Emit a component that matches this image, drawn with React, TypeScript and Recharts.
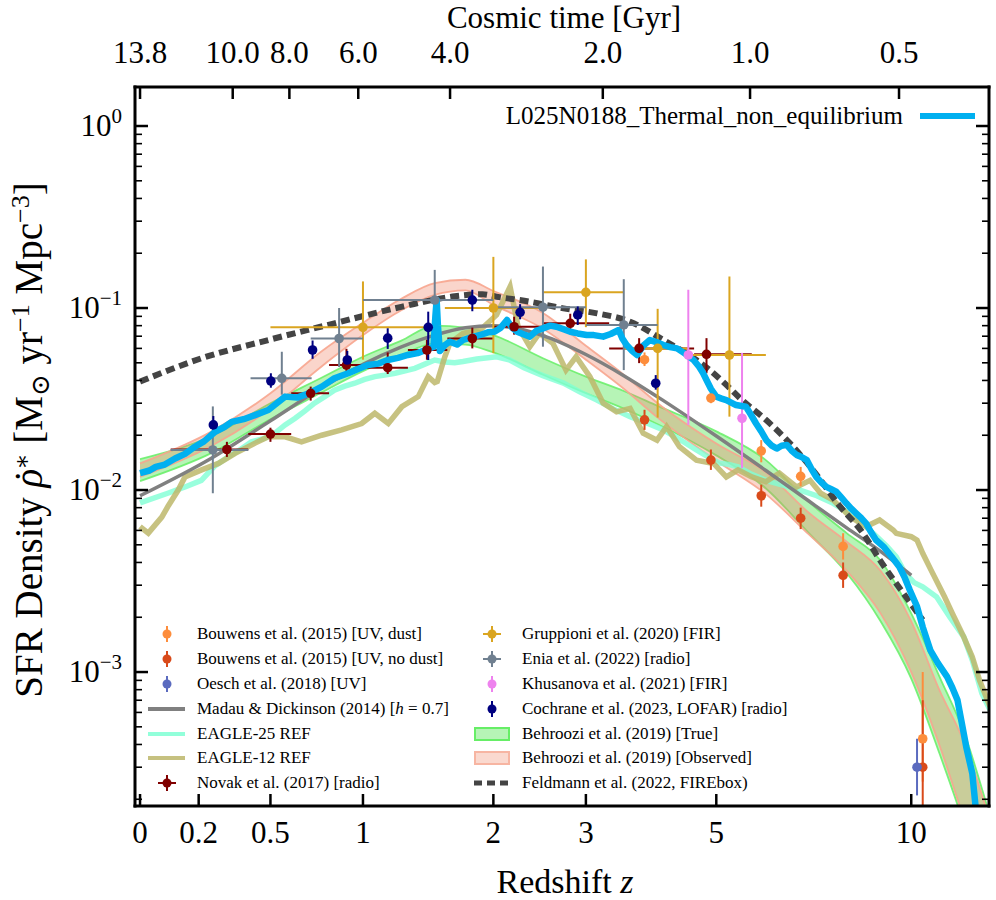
import React from 'react';
import { ComposedChart, Line, Area, Scatter, XAxis, YAxis, ErrorBar, Legend } from 'recharts';

const W = 996;
const H = 900;
// matplotlib axes box, in page pixels
const BOX = { left: 135, right: 989, top: 87, bottom: 806 };
const X_DOMAIN: [number, number] = [-0.0068, 1.1464]; // log10(1+z)
const Y_DOMAIN: [number, number] = [-3.736, 0.2143]; // log10(rho)
const SERIF = '"Liberation Serif", "Times New Roman", "DejaVu Serif", serif';

// axis ticks
const zTicks = [0, 0.2, 0.5, 1, 2, 3, 5, 10];
const zTickLabels = ['0', '0.2', '0.5', '1', '2', '3', '5', '10'];
const ageTickLabels = ['13.8', '10.0', '8.0', '6.0', '4.0', '2.0', '1.0', '0.5'];
const ageTickZ = [0, 0.334, 0.591, 0.971, 1.622, 3.216, 5.664, 9.59];
const yMajor = [-3, -2, -1, 0];

// [z, rho]
const thermalNonEq: [number, number][] = [
  [0, 0.0124], [0.03, 0.0128], [0.05, 0.0134], [0.08, 0.0138], [0.115, 0.0149], [0.15, 0.0158],
  [0.186, 0.0173], [0.22, 0.0185], [0.263, 0.0209], [0.3, 0.0222], [0.33, 0.0237], [0.38, 0.0245],
  [0.43, 0.0258], [0.49, 0.0275], [0.53, 0.03], [0.57, 0.0326], [0.63, 0.0322], [0.69, 0.034],
  [0.76, 0.037], [0.83, 0.0411], [0.91, 0.0438], [0.97, 0.0462], [1.03, 0.0486], [1.1, 0.0495],
  [1.16, 0.0518], [1.23, 0.0532], [1.3, 0.0552], [1.37, 0.0565], [1.43, 0.0588], [1.49, 0.0613],
  [1.505, 0.09], [1.515, 0.1106], [1.525, 0.08], [1.54, 0.058], [1.58, 0.0625], [1.62, 0.0653],
  [1.68, 0.063], [1.73, 0.0667], [1.8, 0.069], [1.88, 0.0711], [1.95, 0.0735], [2.01, 0.0741],
  [2.07, 0.078], [2.13, 0.0859], [2.18, 0.078], [2.23, 0.0741], [2.3, 0.0715], [2.36, 0.0696],
  [2.43, 0.075], [2.5, 0.0773], [2.58, 0.08], [2.65, 0.0789], [2.73, 0.0765], [2.81, 0.0741],
  [2.9, 0.0725], [3.01, 0.0711], [3.1, 0.071], [3.22, 0.0696], [3.32, 0.072], [3.43, 0.0757],
  [3.48, 0.068], [3.54, 0.0626], [3.62, 0.058], [3.69, 0.0552], [3.78, 0.062], [3.88, 0.0667],
  [3.98, 0.065], [4.09, 0.0626], [4.2, 0.061], [4.31, 0.06], [4.45, 0.056], [4.59, 0.0518],
  [4.68, 0.048], [4.76, 0.0438], [4.82, 0.0402], [4.9, 0.036], [5.0, 0.0326], [5.1, 0.0318],
  [5.19, 0.0312], [5.38, 0.0293], [5.58, 0.0287], [5.68, 0.026], [5.79, 0.0232], [5.9, 0.021],
  [6.01, 0.0188], [6.12, 0.0176], [6.24, 0.0169], [6.35, 0.0175], [6.47, 0.0177], [6.58, 0.0165],
  [6.7, 0.0156], [6.82, 0.0152], [6.95, 0.0146], [7.07, 0.013], [7.19, 0.0118], [7.32, 0.011],
  [7.45, 0.0104], [7.58, 0.0101], [7.71, 0.0098], [7.85, 0.0091], [7.99, 0.00845], [8.13, 0.0079],
  [8.27, 0.00745], [8.42, 0.007], [8.56, 0.00656], [8.7, 0.0059], [8.86, 0.00531], [9.09, 0.00489],
  [9.35, 0.0043], [9.6, 0.00379], [9.78, 0.0033], [9.95, 0.00282], [10.2, 0.00229], [10.4, 0.00177],
  [10.67, 0.00132], [10.95, 0.00112], [11.3, 0.00094], [11.5, 0.00082], [11.7, 0.000702],
  [11.85, 0.000545], [12.05, 0.000389], [12.3, 0.000277], [12.45, 0.000175],
];

const eagle25: [number, number][] = [
  [0, 0.0085], [0.09, 0.0096], [0.15, 0.0104], [0.21, 0.0113], [0.26, 0.0135], [0.315, 0.0152],
  [0.36, 0.0165], [0.414, 0.0184], [0.47, 0.0192], [0.52, 0.0205], [0.57, 0.0228], [0.62, 0.0248],
  [0.67, 0.0272], [0.72, 0.03], [0.78, 0.0328], [0.83, 0.0354], [0.89, 0.0372], [0.95, 0.0386],
  [1.01, 0.0405], [1.075, 0.042], [1.14, 0.0428], [1.21, 0.0438], [1.28, 0.0452], [1.35, 0.0466],
  [1.42, 0.049], [1.5, 0.0518], [1.58, 0.0505], [1.66, 0.05], [1.73, 0.0508], [1.85, 0.0525],
  [2.03, 0.054], [2.15, 0.052], [2.3, 0.047], [2.5, 0.0425], [2.73, 0.0387], [2.93, 0.0345],
  [3.14, 0.0312], [3.35, 0.028], [3.59, 0.0253], [3.85, 0.0232], [4.09, 0.0214], [4.35, 0.019],
  [4.64, 0.0166], [4.85, 0.0152], [5.05, 0.0141], [5.25, 0.0138], [5.42, 0.0134], [5.7, 0.0122],
  [6.0, 0.0113], [6.4, 0.0106], [6.78, 0.01], [7.2, 0.0093], [7.63, 0.00845], [8.1, 0.0074],
  [8.56, 0.0063], [8.9, 0.0055], [9.2, 0.0049], [9.5, 0.0043], [9.8, 0.00348], [10.1, 0.0031],
  [10.4, 0.00294], [10.9, 0.00259], [11.4, 0.00201], [11.95, 0.00156], [12.3, 0.00116],
  [12.7, 0.000764], [13.05, 0.00062],
];

const eagle12: [number, number][] = [
  [0, 0.0063], [0.026, 0.0058], [0.07, 0.0071], [0.092, 0.0082], [0.126, 0.01], [0.15, 0.0118],
  [0.211, 0.0129], [0.276, 0.014], [0.344, 0.0159], [0.43, 0.0181], [0.49, 0.0196], [0.57, 0.0196],
  [0.652, 0.0184], [0.759, 0.02], [0.872, 0.0214], [0.992, 0.0232], [1.075, 0.0264], [1.164, 0.0232],
  [1.257, 0.0287], [1.375, 0.0326], [1.45, 0.042], [1.5, 0.039], [1.52, 0.0395], [1.58, 0.054],
  [1.62, 0.064], [1.73, 0.0726], [1.88, 0.0757], [2.03, 0.0916], [2.16, 0.131], [2.24, 0.0789],
  [2.36, 0.0613], [2.46, 0.0726], [2.61, 0.064], [2.76, 0.0456], [2.88, 0.054], [3.05, 0.042],
  [3.22, 0.03], [3.4, 0.0269], [3.59, 0.0281], [3.78, 0.0205], [3.99, 0.0188], [4.14, 0.0223],
  [4.35, 0.0173], [4.64, 0.0146], [4.95, 0.014], [5.19, 0.0118], [5.42, 0.0129], [5.7, 0.0118],
  [6.0, 0.0111], [6.3, 0.0124], [6.7, 0.0104], [7.03, 0.0113], [7.3, 0.0096], [7.63, 0.0088],
  [8.1, 0.00713], [8.56, 0.0063], [8.97, 0.00684], [9.4, 0.00603], [9.5, 0.00578], [10.0, 0.00554],
  [10.2, 0.00531], [10.4, 0.00449], [10.7, 0.00363], [11.2, 0.00259], [11.5, 0.0021],
  [11.95, 0.00156], [12.3, 0.00121], [12.6, 0.000904], [13.05, 0.000646],
];

const madauDickinson: [number, number][] = [
  [0, 0.0093], [0.25, 0.015], [0.5, 0.024], [0.75, 0.036], [1, 0.049], [1.25, 0.061], [1.5, 0.071],
  [1.75, 0.078], [2, 0.08], [2.5, 0.0705], [3, 0.0555], [3.5, 0.0425], [4, 0.0325], [5, 0.0198],
  [6, 0.0128], [7, 0.0087], [8, 0.0062], [9, 0.0046], [10, 0.0034],
];

const fireboxFeldmann: [number, number][] = [
  [0, 0.0394], [0.21, 0.0529], [0.49, 0.0667], [0.83, 0.0824], [1.26, 0.1017], [1.66, 0.116],
  [1.9, 0.119], [2.03, 0.1154], [2.36, 0.1083], [2.73, 0.0996], [3.14, 0.0935], [3.59, 0.0841],
  [4.09, 0.0667], [4.64, 0.0518], [4.88, 0.0456], [5.19, 0.0378], [5.5, 0.0312], [6.0, 0.0243],
  [6.54, 0.0181], [7.1, 0.0129], [7.82, 0.0081], [8.47, 0.00578], [8.98, 0.00412], [9.74, 0.0027],
  [10.4, 0.00193],
];

// Behroozi et al. (2019) bands
const bandZ = [0, 0.25, 0.5, 0.75, 1, 1.25, 1.5, 1.75, 2, 2.5, 3, 3.5, 4, 5, 6, 7, 8, 9, 10, 11, 12, 13];
const trueLo = [0.0112, 0.016, 0.0245, 0.034, 0.045, 0.055, 0.064, 0.063, 0.057, 0.043, 0.034, 0.028, 0.023, 0.0155, 0.0102, 0.0058, 0.0035, 0.0019, 0.00092, 0.00036, 0.00014, 0.00005];
const trueHi = [0.0148, 0.0198, 0.03, 0.041, 0.054, 0.066, 0.08, 0.078, 0.071, 0.053, 0.042, 0.035, 0.029, 0.021, 0.0146, 0.0086, 0.0058, 0.0041, 0.0021, 0.00095, 0.00045, 0.00017];
const obsLo = [0.0118, 0.0175, 0.028, 0.047, 0.071, 0.097, 0.118, 0.125, 0.104, 0.077, 0.052, 0.036, 0.025, 0.0145, 0.0095, 0.0057, 0.0036, 0.0021, 0.001, 0.0004, 0.00015, 0.00006];
const obsHi = [0.014, 0.021, 0.034, 0.057, 0.083, 0.112, 0.137, 0.143, 0.124, 0.094, 0.062, 0.043, 0.03, 0.018, 0.0125, 0.0075, 0.0052, 0.0036, 0.0019, 0.0008, 0.0004, 0.00016];

// observations: [z, rho, rhoLo, rhoHi, zLo?, zHi?]
type Obs = number[];
const bouwensDust: Obs[] = [
  [3.8, 0.052, 0.048, 0.057], [4.9, 0.032, 0.03, 0.0345], [5.9, 0.0164, 0.0142, 0.0188],
  [6.8, 0.0119, 0.0105, 0.0134], [7.9, 0.0049, 0.00415, 0.00579], [10.4, 0.00043, 0.00025, 0.001],
];
const bouwensNoDust: Obs[] = [
  [3.8, 0.0243, 0.0214, 0.0276], [4.9, 0.0146, 0.0129, 0.0167], [5.9, 0.0093, 0.0081, 0.0107],
  [6.8, 0.007, 0.0061, 0.008], [7.9, 0.0034, 0.0029, 0.004], [10.4, 0.0003, 0.000185, 0.0007],
];
const oesch: Obs[] = [[10.2, 0.0003, 0.00021, 0.00043]];
const novak: Obs[] = [
  [0.31, 0.0167, 0.0152, 0.0184, 0.1, 0.4], [0.5, 0.0203, 0.0184, 0.022, 0.4, 0.6],
  [0.7, 0.034, 0.031, 0.037, 0.6, 0.8], [0.9, 0.0486, 0.0434, 0.0597, 0.8, 1.0],
  [1.16, 0.047, 0.0434, 0.057, 1.0, 1.3], [1.44, 0.0588, 0.052, 0.067, 1.3, 1.6],
  [1.81, 0.068, 0.06, 0.078, 1.6, 2.0], [2.2, 0.0789, 0.0714, 0.0896, 2.0, 2.5],
  [2.81, 0.0824, 0.074, 0.093, 2.5, 3.3], [3.72, 0.06, 0.0498, 0.0683, 3.3, 4.6],
  [4.82, 0.0557, 0.0438, 0.0683, 4.6, 5.7],
];
const gruppioni: Obs[] = [
  [1.0, 0.0783, 0.052, 0.14, 0.5, 1.43], [2.0, 0.1, 0.0565, 0.191, 1.58, 2.5],
  [3.0, 0.122, 0.0785, 0.185, 2.5, 3.5], [4.0, 0.06, 0.025, 0.099, 3.5, 4.5],
  [5.25, 0.0552, 0.0253, 0.149, 4.5, 6.0],
];
const enia: Obs[] = [
  [0.254, 0.0166, 0.0096, 0.0288, 0.1, 0.4], [0.554, 0.0411, 0.0334, 0.0575, 0.41, 0.705],
  [0.857, 0.068, 0.0474, 0.1, 0.7, 1.0], [1.5, 0.1106, 0.0588, 0.162, 1.0, 2.0],
  [2.5, 0.101, 0.0613, 0.169, 2.0, 3.0], [3.5, 0.0807, 0.0456, 0.144, 3.0, 4.0],
];
const khusanova: Obs[] = [[4.5, 0.0552, 0.0228, 0.126], [5.5, 0.0248, 0.0132, 0.0567]];
const cochrane: Obs[] = [
  [0.256, 0.0228, 0.0205, 0.0255], [0.502, 0.0397, 0.0365, 0.0438], [0.71, 0.0588, 0.0526, 0.0663],
  [0.905, 0.0518, 0.0497, 0.0581], [1.16, 0.0683, 0.0596, 0.0774], [1.45, 0.0783, 0.0518, 0.0955],
  [1.81, 0.1106, 0.096, 0.126], [2.26, 0.0947, 0.0867, 0.105], [2.9, 0.0916, 0.0807, 0.102],
  [3.97, 0.0386, 0.0356, 0.0428],
];

const C = {
  blue: '#00b0f0',
  eagle25: '#7fffd4',
  eagle12: '#bdb76b',
  md: '#808080',
  fire: '#444444',
  bouwensDust: '#fd8d3c',
  bouwensNoDust: '#d94a1a',
  oesch: '#5b6bbf',
  novak: '#800000',
  gruppioni: '#daa520',
  enia: '#708090',
  khusanova: '#ee82ee',
  cochrane: '#000080',
};

const lx = (z: number) => Math.log10(1 + z);
const toLine = (pts: [number, number][]) => pts.map(([z, r]) => ({ x: lx(z), y: Math.log10(r) }));
const toObs = (pts: Obs[]) =>
  pts.map(([z, r, lo, hi, zlo, zhi]) => {
    const x = lx(z);
    const y = Math.log10(r);
    return {
      x, y,
      ey: [y - Math.log10(lo), Math.log10(hi) - y],
      ex: zlo != null ? [x - lx(zlo), lx(zhi) - x] : [0, 0],
    };
  });

const bandRows = bandZ.map((z, i) => ({
  x: lx(z),
  tr: [Math.log10(trueLo[i]), Math.log10(trueHi[i])],
  ob: [Math.log10(obsLo[i]), Math.log10(obsHi[i])],
}));

const yTicks: number[] = [];
for (let n = -4; n <= 0; n++) {
  for (let k = 1; k <= 9; k++) {
    const v = n + Math.log10(k);
    if (v >= Y_DOMAIN[0] && v <= Y_DOMAIN[1]) yTicks.push(v);
  }
}
const isMajor = (v: number) => Math.abs(v - Math.round(v)) < 1e-9;

function BottomTick(p: any) {
  const i = zTicks.findIndex((t) => Math.abs(lx(t) - p.payload.value) < 1e-9);
  return (
    <g>
      <line x1={p.x} x2={p.x} y1={BOX.bottom} y2={BOX.bottom - 12} stroke="#000" strokeWidth={2.5} />
      <text x={p.x} y={843} textAnchor="middle" fontFamily={SERIF} fontSize={31} fill="#000">{zTickLabels[i]}</text>
    </g>
  );
}

function TopTick(p: any) {
  const i = ageTickZ.findIndex((t) => Math.abs(lx(t) - p.payload.value) < 1e-9);
  return (
    <g>
      <line x1={p.x} x2={p.x} y1={BOX.top} y2={BOX.top + 12} stroke="#000" strokeWidth={2.5} />
      <text x={p.x} y={63} textAnchor="middle" fontFamily={SERIF} fontSize={31} fill="#000">{ageTickLabels[i]}</text>
    </g>
  );
}

function LeftTick(p: any) {
  const v = p.payload.value;
  const major = isMajor(v);
  const n = Math.round(v);
  return (
    <g>
      <line x1={BOX.left} x2={BOX.left + (major ? 13 : 7)} y1={p.y} y2={p.y} stroke="#000" strokeWidth={major ? 2.5 : 1.6} />
      {major && yMajor.includes(n) && (
        <text x={122} y={p.y + 10} textAnchor="end" fontFamily={SERIF} fontSize={31} fill="#000">
          <tspan>10</tspan>
          <tspan dy={-13} fontSize={21}>{n === 0 ? '0' : '\u2212' + Math.abs(n)}</tspan>
        </text>
      )}
    </g>
  );
}

function RightTick(p: any) {
  const major = isMajor(p.payload.value);
  return (
    <line x1={BOX.right} x2={BOX.right - (major ? 13 : 7)} y1={p.y} y2={p.y} stroke="#000" strokeWidth={major ? 2.5 : 1.6} />
  );
}

const bottomTitle = () => (
  <text x={565} y={893} textAnchor="middle" fontFamily={SERIF} fontSize={34} fill="#000">
    Redshift <tspan fontStyle="italic">z</tspan>
  </text>
);
const topTitle = () => (
  <text x={564} y={28} textAnchor="middle" fontFamily={SERIF} fontSize={31} fill="#000">Cosmic time [Gyr]</text>
);
const leftTitle = () => (
  <text x={42} y={440} transform="rotate(-90, 42, 440)" textAnchor="middle" fontFamily={SERIF} fontSize={39} fill="#000">
    SFR Density <tspan fontStyle="italic">{'\u03C1'}</tspan>
    <tspan dx={-14}>{'\u02D9'}</tspan>
    <tspan dy={-12} fontSize={24}>{'\u2217'}</tspan>
    <tspan dy={12}> [M</tspan>
    <tspan dy={7} fontSize={26}>{'\u2299'}</tspan>
    <tspan dy={-7}> yr</tspan>
    <tspan dy={-13} fontSize={26}>{'\u22121'}</tspan>
    <tspan dy={13}> Mpc</tspan>
    <tspan dy={-13} fontSize={26}>{'\u22123'}</tspan>
    <tspan dy={13}>]</tspan>
  </text>
);

type Entry = { label: React.ReactNode; kind: string; color: string };
const legendCol1: Entry[] = [
  { label: 'Bouwens et al. (2015) [UV, dust]', kind: 'pt', color: C.bouwensDust },
  { label: 'Bouwens et al. (2015) [UV, no dust]', kind: 'pt', color: C.bouwensNoDust },
  { label: 'Oesch et al. (2018) [UV]', kind: 'pt', color: C.oesch },
  { label: <>Madau &amp; Dickinson (2014) [<i>h</i> = 0.7]</>, kind: 'line', color: C.md },
  { label: 'EAGLE-25 REF', kind: 'line', color: C.eagle25 },
  { label: 'EAGLE-12 REF', kind: 'line', color: C.eagle12 },
  { label: 'Novak et al. (2017) [radio]', kind: 'cross', color: C.novak },
];
const legendCol2: Entry[] = [
  { label: 'Gruppioni et al. (2020) [FIR]', kind: 'cross', color: C.gruppioni },
  { label: 'Enia et al. (2022) [radio]', kind: 'cross', color: C.enia },
  { label: 'Khusanova et al. (2021) [FIR]', kind: 'pt', color: C.khusanova },
  { label: 'Cochrane et al. (2023, LOFAR) [radio]', kind: 'pt', color: C.cochrane },
  { label: 'Behroozi et al. (2019) [True]', kind: 'patchG', color: '#5ee65e' },
  { label: 'Behroozi et al. (2019) [Observed]', kind: 'patchS', color: '#f08060' },
  { label: 'Feldmann et al. (2022, FIREbox)', kind: 'dash', color: C.fire },
];

function Marker({ kind, color }: { kind: string; color: string }) {
  return (
    <svg width={40} height={24} style={{ flex: 'none' }}>
      {(kind === 'pt' || kind === 'cross') && (
        <>
          <line x1={20} x2={20} y1={4} y2={20} stroke={color} strokeWidth={2} />
          {kind === 'cross' && <line x1={11} x2={29} y1={12} y2={12} stroke={color} strokeWidth={2} />}
          <circle cx={20} cy={12} r={4.5} fill={color} />
        </>
      )}
      {kind === 'line' && <line x1={1} x2={38} y1={12} y2={12} stroke={color} strokeWidth={4} opacity={color === C.md ? 1 : 0.85} />}
      {kind === 'dash' && <line x1={2} x2={38} y1={12} y2={12} stroke={color} strokeWidth={5} strokeDasharray="8 5" />}
      {kind === 'patchG' && <rect x={3} y={6} width={34} height={12} fill={color} fillOpacity={0.45} stroke="#66ee66" strokeWidth={2} />}
      {kind === 'patchS' && <rect x={3} y={6} width={34} height={12} fill={color} fillOpacity={0.3} stroke="#f7b5a2" strokeWidth={2} />}
    </svg>
  );
}

const ROW0 = 634.3;
const ROW_DY = 24.8;

function LegendRows({ entries, left }: { entries: Entry[]; left: number }) {
  return (
    <>
      {entries.map((e, i) => (
        <div
          key={i}
          style={{
            position: 'absolute', left, top: ROW0 + i * ROW_DY - 12, height: 24,
            display: 'flex', alignItems: 'center', whiteSpace: 'nowrap',
          }}
        >
          <Marker kind={e.kind} color={e.color} />
          <span style={{ marginLeft: 10, fontSize: 17, lineHeight: '24px', color: '#000' }}>{e.label}</span>
        </div>
      ))}
    </>
  );
}

function LegendContent() {
  return (
    <div style={{ position: 'relative', width: W, height: H, fontFamily: SERIF, pointerEvents: 'none' }}>
      <div style={{ position: 'absolute', left: 0, width: 903, top: 101, height: 30, textAlign: 'right', fontSize: 25, lineHeight: '30px', color: '#000' }}>
        L025N0188_Thermal_non_equilibrium
      </div>
      <svg style={{ position: 'absolute', left: 918, top: 106 }} width={60} height={20}>
        <line x1={2} x2={57} y1={10} y2={10} stroke={C.blue} strokeWidth={6} />
      </svg>
      <LegendRows entries={legendCol1} left={147} />
      <LegendRows entries={legendCol2} left={472} />
    </div>
  );
}

const obsSets = [
  { name: 'Bouwens dust', data: toObs(bouwensDust), color: C.bouwensDust, cross: false },
  { name: 'Bouwens no dust', data: toObs(bouwensNoDust), color: C.bouwensNoDust, cross: false },
  { name: 'Oesch', data: toObs(oesch), color: C.oesch, cross: false },
  { name: 'Novak', data: toObs(novak), color: C.novak, cross: true },
  { name: 'Gruppioni', data: toObs(gruppioni), color: C.gruppioni, cross: true },
  { name: 'Enia', data: toObs(enia), color: C.enia, cross: true },
  { name: 'Khusanova', data: toObs(khusanova), color: C.khusanova, cross: false },
  { name: 'Cochrane', data: toObs(cochrane), color: C.cochrane, cross: false },
];

const frame = { stroke: '#000', strokeWidth: 3, strokeLinecap: 'square' as const };

export default function App() {
  return (
    <div style={{ position: 'absolute', left: 0, top: 0, width: W, height: H, background: '#fff' }}>
      <ComposedChart
        width={W}
        height={H}
        data={bandRows}
        margin={{ top: BOX.top - 1, right: W - BOX.right - 1, bottom: H - BOX.bottom - 1, left: BOX.left - 1 }}
      >
        <XAxis
          xAxisId="z" type="number" dataKey="x" domain={X_DOMAIN} allowDataOverflow
          ticks={zTicks.map(lx)} interval={0} height={1} tick={BottomTick} tickLine={false}
          axisLine={frame} label={bottomTitle}
        />
        <XAxis
          xAxisId="t" orientation="top" type="number" dataKey="x" domain={X_DOMAIN} allowDataOverflow
          ticks={ageTickZ.map(lx)} interval={0} height={1} tick={TopTick} tickLine={false}
          axisLine={frame} label={topTitle}
        />
        <YAxis
          yAxisId="l" type="number" domain={Y_DOMAIN} allowDataOverflow ticks={yTicks} interval={0}
          width={1} tick={LeftTick} tickLine={false} axisLine={frame} label={leftTitle}
        />
        <YAxis
          yAxisId="r" orientation="right" type="number" domain={Y_DOMAIN} allowDataOverflow ticks={yTicks}
          interval={0} width={1} tick={RightTick} tickLine={false} axisLine={frame}
        />
        <Legend layout="horizontal" verticalAlign="middle" align="center" content={LegendContent}
          wrapperStyle={{ left: 0, top: 0, width: W, height: H }} />

        <Area xAxisId="z" yAxisId="l" dataKey="tr" type="monotone" fill="#5ee65e" fillOpacity={0.45}
          stroke="#66ee66" strokeOpacity={0.85} strokeWidth={1.8} isAnimationActive={false} activeDot={false} />
        <Area xAxisId="z" yAxisId="l" dataKey="ob" type="monotone" fill="#f08060" fillOpacity={0.33}
          stroke="#f7a58e" strokeOpacity={0.9} strokeWidth={1.8} isAnimationActive={false} activeDot={false} />

        <Line xAxisId="z" yAxisId="l" data={toLine(eagle25)} dataKey="y" type="linear" stroke={C.eagle25}
          strokeOpacity={0.8} strokeWidth={5.5} dot={false} activeDot={false} isAnimationActive={false} />
        <Line xAxisId="z" yAxisId="l" data={toLine(eagle12)} dataKey="y" type="linear" stroke={C.eagle12}
          strokeOpacity={0.85} strokeWidth={5.5} dot={false} activeDot={false} isAnimationActive={false} />
        <Line xAxisId="z" yAxisId="l" data={toLine(madauDickinson)} dataKey="y" type="monotone" stroke={C.md}
          strokeWidth={3.5} dot={false} activeDot={false} isAnimationActive={false} />
        <Line xAxisId="z" yAxisId="l" data={toLine(fireboxFeldmann)} dataKey="y" type="monotone" stroke={C.fire}
          strokeWidth={6} strokeDasharray="9 5" dot={false} activeDot={false} isAnimationActive={false} />

        {obsSets.map((s) => (
          <Scatter
            key={s.name} xAxisId="z" yAxisId="l" data={s.data} dataKey="y" isAnimationActive={false}
            shape={(p: any) => <circle cx={p.cx} cy={p.cy} r={4.8} fill={s.color} />}
          >
            <ErrorBar dataKey="ey" direction="y" width={0} stroke={s.color} strokeWidth={2} isAnimationActive={false} />
            {s.cross && (
              <ErrorBar dataKey="ex" direction="x" width={0} stroke={s.color} strokeWidth={2} isAnimationActive={false} />
            )}
          </Scatter>
        ))}

        <Line xAxisId="z" yAxisId="l" data={toLine(thermalNonEq)} dataKey="y" type="linear" stroke={C.blue}
          strokeWidth={6.5} strokeLinejoin="round" dot={false} activeDot={false} isAnimationActive={false} />
      </ComposedChart>
    </div>
  );
}
